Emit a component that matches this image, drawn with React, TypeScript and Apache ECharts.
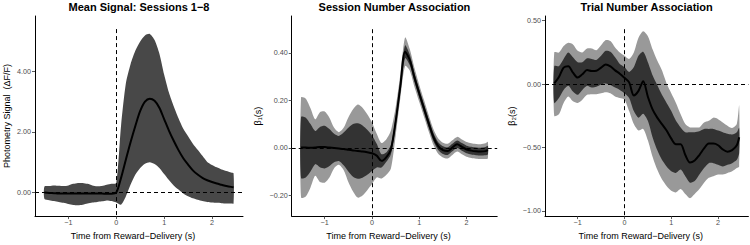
import React, { useEffect, useRef } from "react";
import * as echarts from "echarts";

const time = [
  -1.5, -1.4, -1.3, -1.2, -1.1, -1.0, -0.9, -0.8, -0.7, -0.6, -0.5, -0.4, -0.3, -0.2, -0.1,
  0, 0.1, 0.2, 0.3, 0.4, 0.5, 0.6, 0.7, 0.8, 0.9, 1.0, 1.1, 1.2, 1.3, 1.4, 1.5, 1.6, 1.7,
  1.8, 1.9, 2.0, 2.1, 2.2, 2.3, 2.4, 2.45,
];

const titles = ["Mean Signal: Sessions 1\u22128", "Session Number Association", "Trial Number Association"];
const yNames = ["Photometry Signal\u00a0\u00a0(\u0394F/F)", "\u03b2\u2081(s)", "\u03b2\u2082(s)"];
const xName = "Time from Reward\u2212Delivery (s)";
const xTicks = [-1, 0, 1, 2];
const yTicks = [
  [0, 2, 4],
  [-0.2, 0, 0.2, 0.4],
  [-1, -0.5, 0, 0.5],
];
const xRange = [-1.6975, 2.6475];
const yRanges = [
  [-0.8, 5.844],
  [-0.288, 0.5556],
  [-1.042, 0.537],
];
const zeroLineTop = [5.41, 0.5, 0.433];

// Panel 1: mean signal with one band
const p1Mean = [
  -0.02, -0.03, -0.04, -0.05, -0.05, -0.05, -0.05, -0.05, -0.05, -0.05, -0.05, -0.05, -0.05, -0.06, -0.06,
  -0.02, 0.47, 1.07, 1.66, 2.2, 2.69, 3.0, 3.1, 3.03, 2.8, 2.42, 2.04, 1.7, 1.39, 1.12, 0.91, 0.72, 0.58,
  0.47, 0.39, 0.33, 0.28, 0.24, 0.2, 0.17, 0.16,
];
const p1Upper = [
  0.18, 0.2, 0.22, 0.21, 0.2, 0.22, 0.27, 0.3, 0.3, 0.27, 0.22, 0.19, 0.2, 0.24, 0.27,
  0.3, 2.2, 3.6, 4.25, 4.7, 5.0, 5.2, 5.25, 5.05, 4.6, 3.9, 3.3, 2.85, 2.45, 2.1, 1.85, 1.6, 1.4,
  1.2, 1.0, 0.9, 0.82, 0.75, 0.7, 0.65, 0.62,
];
const p1Lower = [
  -0.23, -0.27, -0.3, -0.33, -0.36, -0.4, -0.43, -0.44, -0.42, -0.38, -0.35, -0.33, -0.31, -0.28, -0.3,
  -0.35, -0.42, -0.15, 0.25, 0.58, 0.8, 0.94, 0.99, 0.93, 0.8, 0.6, 0.4, 0.22, 0.08, -0.05, -0.14, -0.21, -0.26,
  -0.3, -0.33, -0.35, -0.36, -0.37, -0.38, -0.38, -0.38,
];

// Panel 2: session number coefficient, with inner and outer half-widths
const p2Mean = [
  0.001, 0.001, 0.0, 0.001, 0.003, 0.003, 0.001, -0.001, -0.003, -0.005, -0.008, -0.011, -0.014, -0.016, -0.019,
  -0.023, -0.033, -0.055, -0.04, -0.007, 0.11, 0.26, 0.405, 0.37, 0.295, 0.229, 0.166, 0.103, 0.045, 0.007, -0.01, -0.014, 0.001,
  0.015, 0.004, -0.007, -0.012, -0.015, -0.016, -0.014, -0.01,
];
const p2InnerHalf = [
  0.129, 0.126, 0.1, 0.07, 0.085, 0.09, 0.078, 0.06, 0.053, 0.069, 0.092, 0.111, 0.117, 0.11, 0.095,
  0.075, 0.05, 0.028, 0.02, 0.02, 0.02, 0.022, 0.027, 0.022, 0.019, 0.018, 0.018, 0.018, 0.017, 0.016, 0.016, 0.016, 0.016,
  0.016, 0.016, 0.016, 0.016, 0.016, 0.016, 0.017, 0.018,
];
const p2OuterHalf = [
  0.211, 0.206, 0.167, 0.119, 0.147, 0.15, 0.126, 0.085, 0.069, 0.089, 0.136, 0.173, 0.196, 0.185, 0.16,
  0.13, 0.092, 0.075, 0.075, 0.08, 0.06, 0.05, 0.06, 0.045, 0.04, 0.036, 0.035, 0.034, 0.033, 0.032, 0.031, 0.031, 0.031,
  0.031, 0.031, 0.031, 0.031, 0.031, 0.031, 0.033, 0.035,
];

// Panel 3: trial number coefficient, explicit band edges
const p3Mean = [
  0.005, 0.056, 0.13, 0.141, 0.09, 0.051, 0.077, 0.11, 0.103, 0.105, 0.13, 0.154, 0.139, 0.108, 0.082,
  0.049, 0.013, -0.09, -0.054, 0.023, -0.1, -0.2, -0.265, -0.316, -0.367, -0.431, -0.475, -0.475, -0.56, -0.619, -0.603, -0.56, -0.508,
  -0.47, -0.47, -0.483, -0.516, -0.534, -0.521, -0.483, -0.42,
];
const p3InnerHi = [
  0.141, 0.141, 0.198, 0.249, 0.211, 0.172, 0.172, 0.203, 0.198, 0.19, 0.223, 0.262, 0.254, 0.211, 0.159,
  0.134, 0.095, 0.134, 0.223, 0.254, 0.172, 0.069, -0.008, -0.085, -0.149, -0.213, -0.29, -0.342, -0.38, -0.38, -0.38, -0.372, -0.354,
  -0.354, -0.354, -0.367, -0.38, -0.393, -0.398, -0.38, -0.345,
];
const p3InnerLo = [
  -0.149, -0.11, -0.046, -0.013, -0.059, -0.085, -0.046, -0.013, -0.028, -0.021, -0.003, 0.005, -0.008, -0.028, -0.046,
  -0.072, -0.11, -0.213, -0.265, -0.234, -0.29, -0.419, -0.521, -0.598, -0.65, -0.688, -0.701, -0.675, -0.727, -0.778, -0.766, -0.714, -0.663,
  -0.624, -0.624, -0.637, -0.65, -0.637, -0.624, -0.598, -0.547,
];
const p3OuterHi = [
  0.249, 0.249, 0.3, 0.326, 0.313, 0.262, 0.249, 0.28, 0.28, 0.267, 0.306, 0.347, 0.339, 0.288, 0.249,
  0.223, 0.198, 0.249, 0.365, 0.416, 0.378, 0.275, 0.185, 0.108, 0.005, -0.072, -0.149, -0.239, -0.316, -0.342, -0.342, -0.342, -0.303,
  -0.29, -0.265, -0.277, -0.303, -0.329, -0.347, -0.316, -0.17,
];
const p3OuterLo = [
  -0.252, -0.239, -0.149, -0.098, -0.136, -0.149, -0.123, -0.085, -0.08, -0.08, -0.072, -0.064, -0.072, -0.098, -0.11,
  -0.123, -0.213, -0.316, -0.367, -0.354, -0.444, -0.573, -0.675, -0.752, -0.804, -0.842, -0.855, -0.829, -0.868, -0.901, -0.868, -0.829, -0.778,
  -0.74, -0.727, -0.714, -0.714, -0.701, -0.688, -0.663, -0.65,
];

const FONT = "'Liberation Sans', Arial, Helvetica, sans-serif";
const SMOOTH = 0.3;

function buildOption() {
  const p2InnerHi = p2Mean.map((m, i) => m + p2InnerHalf[i]);
  const p2InnerLo = p2Mean.map((m, i) => m - p2InnerHalf[i]);
  const p2OuterHi = p2Mean.map((m, i) => m + p2OuterHalf[i]);
  const p2OuterLo = p2Mean.map((m, i) => m - p2OuterHalf[i]);

  const grids = [
    { left: 35, top: 16, width: 208, height: 205 },
    { left: 291.7, top: 16, width: 205.5, height: 205 },
    { left: 545, top: 16, width: 203.4, height: 205 },
  ];
  const nameGaps = [24, 29, 28.5];

  const pairs = (ys: number[]) => time.map((t, i) => [t, ys[i]]);

  const band = (idx: number, lo: number[], hi: number[], color: string) => ({
    type: "custom",
    xAxisIndex: idx,
    yAxisIndex: idx,
    data: [[time[0], lo[0]]],
    silent: true,
    z: 1,
    clip: true,
    renderItem: (params: any, api: any) => {
      const top = hi.map((v, i) => api.coord([time[i], v]));
      const bottom = lo.map((v, i) => api.coord([time[i], v])).reverse();
      return {
        type: "polygon",
        shape: { points: top.concat(bottom), smooth: 0.25 },
        style: { fill: color, stroke: "none" },
      };
    },
  });

  const meanLine = (idx: number, ys: number[]) => ({
    type: "line",
    xAxisIndex: idx,
    yAxisIndex: idx,
    data: pairs(ys),
    symbol: "none",
    smooth: SMOOTH,
    lineStyle: { color: "#000", width: 2 },
    z: 3,
    markLine: {
      silent: true,
      symbol: ["none", "none"],
      label: { show: false },
      lineStyle: { color: "#000", width: 1, type: [4, 3] },
      z: 4,
      data: [
        [{ coord: [0, zeroLineTop[idx]] }, { coord: [0, yRanges[idx][0]] }],
        [{ coord: [xRange[0], 0] }, { coord: [xRange[1], 0] }],
      ],
    },
  });

  const fmtY = (v: number) => (v < 0 ? "\u2212" : "") + Math.abs(v).toFixed(2);
  const fmtX = (v: number) => (v < 0 ? "\u2212" : "") + String(Math.abs(Math.round(v)));

  return {
    animation: false,
    textStyle: { fontFamily: FONT },
    title: titles.map((t, i) => ({
      text: t,
      left: grids[i].left + grids[i].width / 2,
      top: 1,
      padding: 0,
      textAlign: "center",
      textStyle: { fontSize: 11, fontWeight: "bold", color: "#000", fontFamily: FONT },
    })),
    grid: grids,
    xAxis: grids.map((_, i) => ({
      type: "value",
      gridIndex: i,
      min: xRange[0],
      max: xRange[1],
      splitLine: { show: false },
      axisLine: { show: true, onZero: false, lineStyle: { color: "#000", width: 1 } },
      axisTick: { show: true, customValues: xTicks, length: 3, lineStyle: { color: "#333", width: 0.8 } },
      axisLabel: { customValues: xTicks, formatter: fmtX, fontSize: 7.2, color: "#4d4d4d", margin: 3, fontFamily: FONT },
      name: xName,
      nameLocation: "middle",
      nameGap: 12,
      nameTextStyle: { fontSize: 9, color: "#000", fontFamily: FONT, padding: [0, 12, 0, 0] },
    })),
    yAxis: grids.map((_, i) => ({
      type: "value",
      gridIndex: i,
      min: yRanges[i][0],
      max: yRanges[i][1],
      splitLine: { show: false },
      axisLine: { show: true, onZero: false, lineStyle: { color: "#000", width: 1 } },
      axisTick: { show: true, customValues: yTicks[i], length: 3, lineStyle: { color: "#333", width: 0.8 } },
      axisLabel: { customValues: yTicks[i], formatter: fmtY, fontSize: 7.2, color: "#4d4d4d", margin: 4, fontFamily: FONT },
      name: yNames[i],
      nameLocation: "middle",
      nameGap: nameGaps[i],
      nameTextStyle: { fontSize: 9, color: "#000", fontFamily: FONT },
    })),
    series: [
      band(0, p1Lower, p1Upper, "#484848"),
      meanLine(0, p1Mean),
      band(1, p2OuterLo, p2OuterHi, "#999999"),
      band(1, p2InnerLo, p2InnerHi, "#333333"),
      meanLine(1, p2Mean),
      band(2, p3OuterLo, p3OuterHi, "#999999"),
      band(2, p3InnerLo, p3InnerHi, "#333333"),
      meanLine(2, p3Mean),
    ],
  };
}

export default function App() {
  const ref = useRef<HTMLDivElement>(null);
  useEffect(() => {
    document.body.style.margin = "0";
    const chart = echarts.init(ref.current!, null, { renderer: "svg" });
    chart.setOption(buildOption() as any);
    return () => chart.dispose();
  }, []);
  return <div ref={ref} style={{ width: 750, height: 245, background: "#fff" }} />;
}
